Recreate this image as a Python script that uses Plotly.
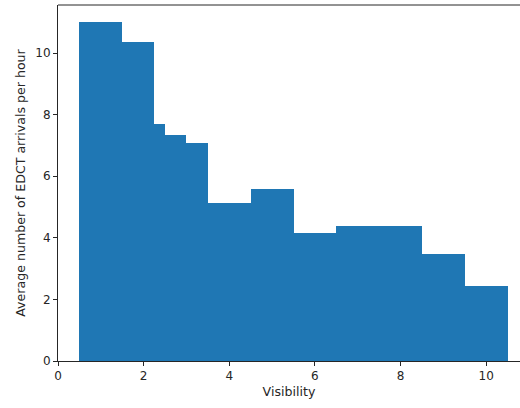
import plotly.graph_objects as go

# visibility bin edges and the average arrivals in each bin
bin_edges = [0.5, 1.5, 2.25, 2.5, 3.0, 3.5, 4.5, 5.5, 6.5, 8.5, 9.5, 10.5]
avg_arrivals = [11.0, 10.36, 7.69, 7.35, 7.09, 5.14, 5.57, 4.15, 4.38, 3.48, 2.44]
x_ticks = [0, 2, 4, 6, 8, 10]
y_ticks = [0, 2, 4, 6, 8, 10]

centers = [(a + b) / 2 for a, b in zip(bin_edges[:-1], bin_edges[1:])]
widths = [b - a for a, b in zip(bin_edges[:-1], bin_edges[1:])]

fig = go.Figure()
fig.add_trace(go.Bar(
    x=centers, y=avg_arrivals, width=widths,
    marker=dict(color="#1f77b4", line=dict(width=0)),
))

tick_font = dict(family="DejaVu Sans", size=12, color="#262626")
title_font = dict(family="DejaVu Sans", size=12.6, color="#262626")
fig.update_layout(
    width=520, height=408,
    margin=dict(l=58, r=0, t=5, b=47),
    paper_bgcolor="white", plot_bgcolor="white",
    showlegend=False, bargap=0, barmode="overlay",
    font=tick_font,
    xaxis=dict(range=[0, 10.79], tickvals=x_ticks, ticks="outside", ticklen=4,
               tickcolor="#262626", showline=True, linecolor="#262626", linewidth=1,
               showgrid=False, zeroline=False, tickfont=tick_font,
               title=dict(text="Visibility", font=title_font, standoff=4)),
    yaxis=dict(range=[0, 11.56], tickvals=y_ticks, ticks="outside", ticklen=4,
               tickcolor="#262626", showline=True, linecolor="#262626", linewidth=1,
               showgrid=False, zeroline=False, tickfont=tick_font,
               title=dict(text="Average number of EDCT arrivals per hour", font=title_font, standoff=6)),
    shapes=[dict(type="line", xref="paper", yref="paper", x0=0, x1=1, y0=1, y1=1,
                 line=dict(color="#262626", width=1))],
)
fig.write_html("out.html")
